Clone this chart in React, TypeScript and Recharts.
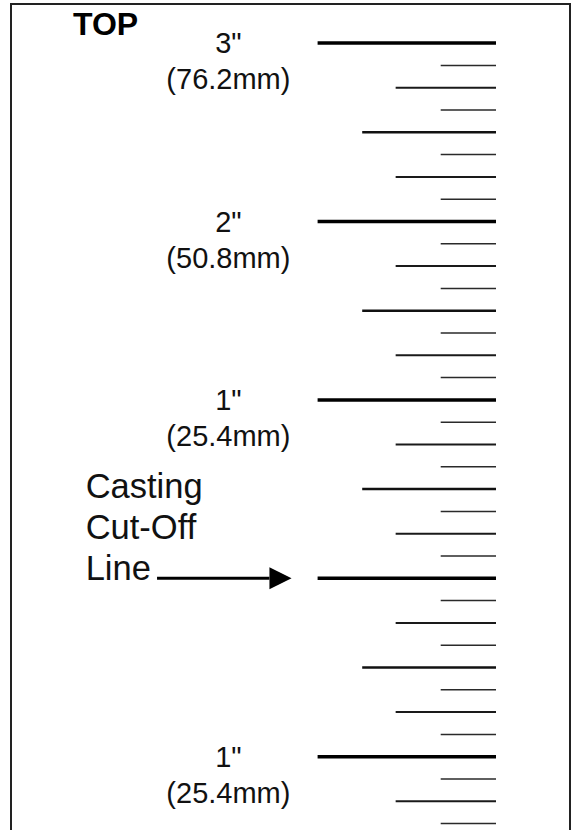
import { ComposedChart, ReferenceLine, Scatter, XAxis, YAxis } from "recharts";

// ruler marks, in inches above the casting cut-off line (every 1/8")
const rulerMarks = [
  3, 2.875, 2.75, 2.625, 2.5, 2.375, 2.25, 2.125, 2, 1.875, 1.75, 1.625, 1.5,
  1.375, 1.25, 1.125, 1, 0.875, 0.75, 0.625, 0.5, 0.375, 0.25, 0.125, 0,
  -0.125, -0.25, -0.375, -0.5, -0.625, -0.75, -0.875, -1, -1.125, -1.25,
  -1.375,
];
const inchLabelAt = [3, 2, 1, -1];
const inchLabels = ['3"', '2"', '1"', '1"'];
const mmLabels = ["(76.2mm)", "(50.8mm)", "(25.4mm)", "(25.4mm)"];
const cutOffAt = 0;
const captionLines = ["Casting", "Cut-Off", "Line"];
const topText = "TOP";

const W = 577;
const H = 830;
const PX_PER_INCH = 178.4;
const RULER_RIGHT_PX = 496;
const CUTOFF_PX = 578.3;

const X_DOMAIN = [-RULER_RIGHT_PX / PX_PER_INCH, (W - RULER_RIGHT_PX) / PX_PER_INCH];
const Y_DOMAIN = [(CUTOFF_PX - H) / PX_PER_INCH, CUTOFF_PX / PX_PER_INCH];

const FONT = "'Liberation Sans', Arial, Helvetica, sans-serif";

// tick length (inches, leftwards from the ruler edge) and weight
const markStyle = (v: number) => {
  const e = ((Math.round(v * 8) % 8) + 8) % 8;
  if (e === 0) return { len: 1, w: 3.5, c: "#000" };
  if (e === 4) return { len: 0.75, w: 2.5, c: "#111" };
  if (e % 2 === 0) return { len: 0.5625, w: 2, c: "#1a1a1a" };
  return { len: 0.31, w: 1.5, c: "#2a2a2a" };
};

const LABEL_X = -1.5;
const CAPTION_X = -2.3;
const ARROW_FROM = -1.9;
const ARROW_BASE = -1.27;
const ARROW_TIP = -1.146;

const labelData = inchLabelAt.map((y, i) => ({
  x: LABEL_X,
  y,
  inch: inchLabels[i],
  mm: mmLabels[i],
}));
const captionData = [{ x: CAPTION_X, y: cutOffAt }];
const arrowData = [{ x: ARROW_TIP, y: cutOffAt }];

const LabelShape = (props: any) => {
  const { cx, cy, payload } = props;
  return (
    <g>
      <text x={cx} y={cy + 10} textAnchor="middle" fontSize={29} fontFamily={FONT} fill="#111">
        {payload.inch}
      </text>
      <text x={cx} y={cy + 46} textAnchor="middle" fontSize={29} fontFamily={FONT} fill="#111">
        {payload.mm}
      </text>
    </g>
  );
};

const CaptionShape = (props: any) => {
  const { cx, cy } = props;
  return (
    <text x={cx} y={cy} fontSize={34.5} fontFamily={FONT} fill="#111">
      {captionLines.map((t, i) => (
        <tspan key={t} x={cx} y={cy + 2 - (captionLines.length - 1 - i) * 41}>
          {t}
        </tspan>
      ))}
    </text>
  );
};

const ArrowHead = (props: any) => {
  const { cx, cy } = props;
  const back = (ARROW_TIP - ARROW_BASE) * PX_PER_INCH;
  return (
    <polygon
      points={`${cx},${cy} ${cx - back},${cy - 11} ${cx - back},${cy + 11}`}
      fill="#000"
    />
  );
};

export default function App() {
  return (
    <div style={{ position: "absolute", left: 0, top: 0, width: W, height: H, overflow: "hidden", background: "#fff" }}>
      <div
        style={{
          position: "absolute",
          left: 10,
          top: 3,
          width: 557,
          height: 900,
          border: "2px solid #222",
        }}
      />
      <svg style={{ position: "absolute", left: 0, top: 0 }} width={W} height={60}>
        <text x={73} y={35} fontSize={32} fontWeight="bold" fontFamily={FONT} fill="#000">
          {topText}
        </text>
      </svg>
      <div style={{ position: "absolute", left: 0, top: 0 }}>
        <ComposedChart width={W} height={H} margin={{ top: 0, right: 0, bottom: 0, left: 0 }}>
          <XAxis type="number" dataKey="x" domain={X_DOMAIN} hide allowDataOverflow />
          <YAxis type="number" dataKey="y" domain={Y_DOMAIN} hide allowDataOverflow />
          {rulerMarks.map((v) => {
            const s = markStyle(v);
            return (
              <ReferenceLine
                key={v}
                segment={[
                  { x: -s.len, y: v },
                  { x: 0, y: v },
                ]}
                stroke={s.c}
                strokeWidth={s.w}
                ifOverflow="visible"
              />
            );
          })}
          <ReferenceLine
            segment={[
              { x: ARROW_FROM, y: cutOffAt },
              { x: ARROW_BASE, y: cutOffAt },
            ]}
            stroke="#000"
            strokeWidth={3}
          />
          <Scatter data={labelData} shape={LabelShape} isAnimationActive={false} />
          <Scatter data={captionData} shape={CaptionShape} isAnimationActive={false} />
          <Scatter data={arrowData} shape={ArrowHead} isAnimationActive={false} />
        </ComposedChart>
      </div>
    </div>
  );
}
